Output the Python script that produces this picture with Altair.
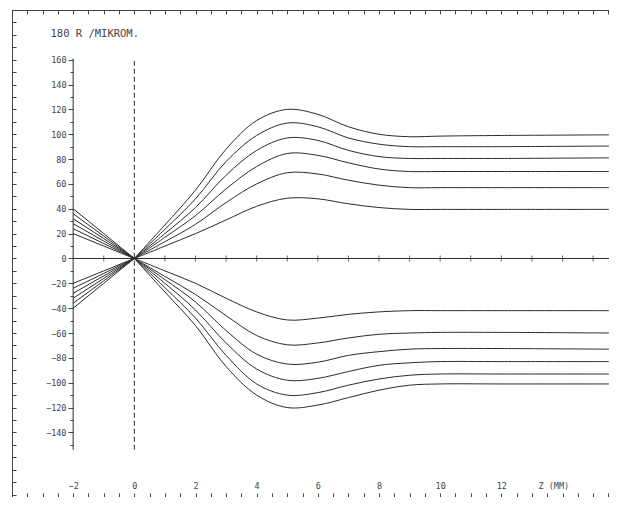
import altair as alt
import pandas as pd

# ---------------- data ----------------
Z = [-2, -1, 0, 1, 2, 3, 4, 5, 6, 7, 8, 9, 10, 12, 15.52]

# upper family (come from the lower-left rays)
U1 = [-20, -10, 0, 10, 20, 31, 42, 48.5, 48, 44, 41, 39.5, 39.5, 39.5, 39.5]
U2 = [-24, -12, 0, 13.5, 27.5, 45, 60, 69, 68, 63, 59, 57, 57, 57, 57]
U3 = [-28, -14, 0, 17, 34.5, 56, 74, 84.5, 83, 77, 72, 70, 70, 70, 70]
U4 = [-32, -16, 0, 20, 41, 67, 87, 97, 95, 87, 82, 80.5, 80.5, 80.5, 81]
U5 = [-36, -18, 0, 23.5, 48, 78, 99, 109, 106, 97, 92, 90, 90, 90, 90.5]
U6 = [-40, -20, 0, 27, 55, 88, 111, 120, 116, 106, 100, 98, 98.5, 99, 99.5]

# lower family (come from the upper-left rays)
L1 = [20, 10, 0, -10, -20, -32, -43, -49.5, -48, -45, -43, -42, -42, -42, -42]
L2 = [24, 12, 0, -14.5, -29, -46, -62, -69.5, -68, -64, -61, -60, -59.5, -59.5, -60]
L3 = [28, 14, 0, -17, -35, -58, -77, -85, -83.5, -78, -75, -73, -72.5, -72.5, -73]
L4 = [32, 16, 0, -20, -41.5, -68, -89, -98, -96.5, -91, -86, -84, -83, -83, -83]
L5 = [36, 18, 0, -23.5, -48, -78, -101, -110, -108, -102, -97, -94, -93, -93, -93]
L6 = [40, 20, 0, -27, -54, -87, -110, -120, -118, -112, -106, -102, -101, -101, -101]

CURVES = {"U1": U1, "U2": U2, "U3": U3, "U4": U4, "U5": U5, "U6": U6,
          "L1": L1, "L2": L2, "L3": L3, "L4": L4, "L5": L5, "L6": L6}

X_DOMAIN = [-4, 15.52]
Y_DOMAIN = [-192, 200]
X_LABELS = [-2, 0, 2, 4, 6, 8, 10, 12]
HALF_MM = [i * 0.5 for i in range(-8, 32)]
Y_TICKS = list(range(-150, 161, 10))
FRAME_Y_TICKS = list(range(-190, 201, 10))
ZERO_TICKS = [-1, 1, 2, 3, 4, 5, 6, 7, 8, 9, 10, 11, 12, 13, 14, 15]
AXIS_RANGE = [-154, 161]          # extent of the inner R axis and of the dashed z=0 line
AXIS_Z = [-2, 0]                  # inner R axis position, dashed line position
Y_TITLE = "180 R /MIKROM."
X_TITLE = "Z (MM)"

rows = [{"z": z, "r": v, "curve": name}
        for name, vals in CURVES.items() for z, v in zip(Z, vals)]
df = pd.DataFrame(rows)

W, H = 597, 487
INK = "#2b2b2b"
AX = "#444444"
FONT = "DejaVu Sans Mono"

xs = alt.Scale(domain=X_DOMAIN, nice=False, zero=False)
ys = alt.Scale(domain=Y_DOMAIN, nice=False, zero=False)

lo, hi = X_LABELS[0], X_LABELS[-1]
x_label_expr = f"(datum.value % 2 == 0 && datum.value >= {lo} && datum.value <= {hi}) ? format(datum.value, 'd') : ''"
y_label_expr = "(datum.value % 20 == 0 && datum.value >= -140) ? format(datum.value, 'd') : ''"

base = alt.Chart(df)

# smooth lens curves, z >= 0
curves = base.transform_filter("datum.z >= 0").mark_line(
    interpolate="catmull-rom", color=INK, strokeWidth=1
).encode(
    x=alt.X("z:Q", scale=xs, axis=alt.Axis(
        orient="top", offset=-H, values=HALF_MM, labelExpr=x_label_expr,
        tickSize=4, tickColor=AX, domain=True, domainColor=AX, grid=False,
        labelFont=FONT, labelFontSize=8.5, labelColor=AX, labelPadding=3,
        labelFlush=False, labelOverlap=False,
        title=X_TITLE, titleFont=FONT, titleFontSize=8.5, titleFontWeight="normal",
        titleColor=AX, titleX=526, titleY=-12, titleAlign="left", titleBaseline="middle")),
    y=alt.Y("r:Q", scale=ys, axis=alt.Axis(
        orient="left", offset=-61, values=Y_TICKS, labelExpr=y_label_expr,
        tickSize={"condition": {"test": "datum.value % 20 == 0", "value": 5}, "value": 3},
        tickColor=AX, domain=False, grid=False,
        labelFont=FONT, labelFontSize=8.5, labelColor=AX, labelPadding=2,
        labelFlush=False, labelOverlap=False,
        title=Y_TITLE, titleFont=FONT, titleFontSize=10.5, titleFontWeight="normal",
        titleColor=AX, titleAngle=0, titleX=-23, titleY=23, titleAlign="left",
        titleBaseline="middle")),
    detail="curve:N",
)

# straight incoming rays, z <= 0
rays = base.transform_filter("datum.z <= 0").mark_line(color=INK, strokeWidth=1).encode(
    x=alt.X("z:Q", scale=xs, axis=None),
    y=alt.Y("r:Q", scale=ys, axis=None),
    detail="curve:N",
)

zero_df = pd.DataFrame({"z": [AXIS_Z[0]], "z2": [X_DOMAIN[1]], "r": [0]})
zero_line = alt.Chart(zero_df).mark_rule(color=INK, strokeWidth=1).encode(
    x=alt.X("z:Q", scale=xs, axis=alt.Axis(
        orient="bottom", offset=-H, values=HALF_MM, labels=False, tickSize=4,
        tickColor=AX, domain=True, domainColor=AX, grid=False, title=None)),
    x2="z2:Q",
    y=alt.Y("r:Q", scale=ys, axis=alt.Axis(
        orient="right", offset=-W, values=FRAME_Y_TICKS, labels=False, tickSize=4,
        tickColor=AX, domain=True, domainColor=AX, grid=False, title=None)),
)

zt_df = pd.DataFrame({"z": ZERO_TICKS, "r": [0] * len(ZERO_TICKS)})
zero_ticks = alt.Chart(zt_df).mark_tick(orient="vertical", size=6, thickness=1, color=INK).encode(
    x=alt.X("z:Q", scale=xs, axis=None),
    y=alt.Y("r:Q", scale=ys, axis=None),
)

ax_df = pd.DataFrame({"z": [AXIS_Z[0]], "r1": [AXIS_RANGE[0]], "r2": [AXIS_RANGE[1]]})
r_axis = alt.Chart(ax_df).mark_rule(color=INK, strokeWidth=1).encode(
    x=alt.X("z:Q", scale=xs, axis=None),
    y=alt.Y("r1:Q", scale=ys, axis=None),
    y2="r2:Q",
)

dash_df = pd.DataFrame({"z": [AXIS_Z[1]], "r1": [AXIS_RANGE[0]], "r2": [AXIS_RANGE[1]]})
dashed = alt.Chart(dash_df).mark_rule(color=INK, strokeWidth=1, strokeDash=[5, 3]).encode(
    x=alt.X("z:Q", scale=xs, axis=None),
    y=alt.Y("r1:Q", scale=ys, axis=None),
    y2="r2:Q",
)

chart = alt.layer(curves, rays, zero_line, zero_ticks, r_axis, dashed).resolve_axis(
    x="independent", y="independent"
).properties(
    width=W, height=H,
    autosize=alt.AutoSizeParams(type="none"),
    padding={"left": 4, "top": 2, "right": 0, "bottom": 0},
    background="white",
).configure_view(stroke=None)

chart.save("out.html", embed_options={"renderer": "svg", "actions": False})
